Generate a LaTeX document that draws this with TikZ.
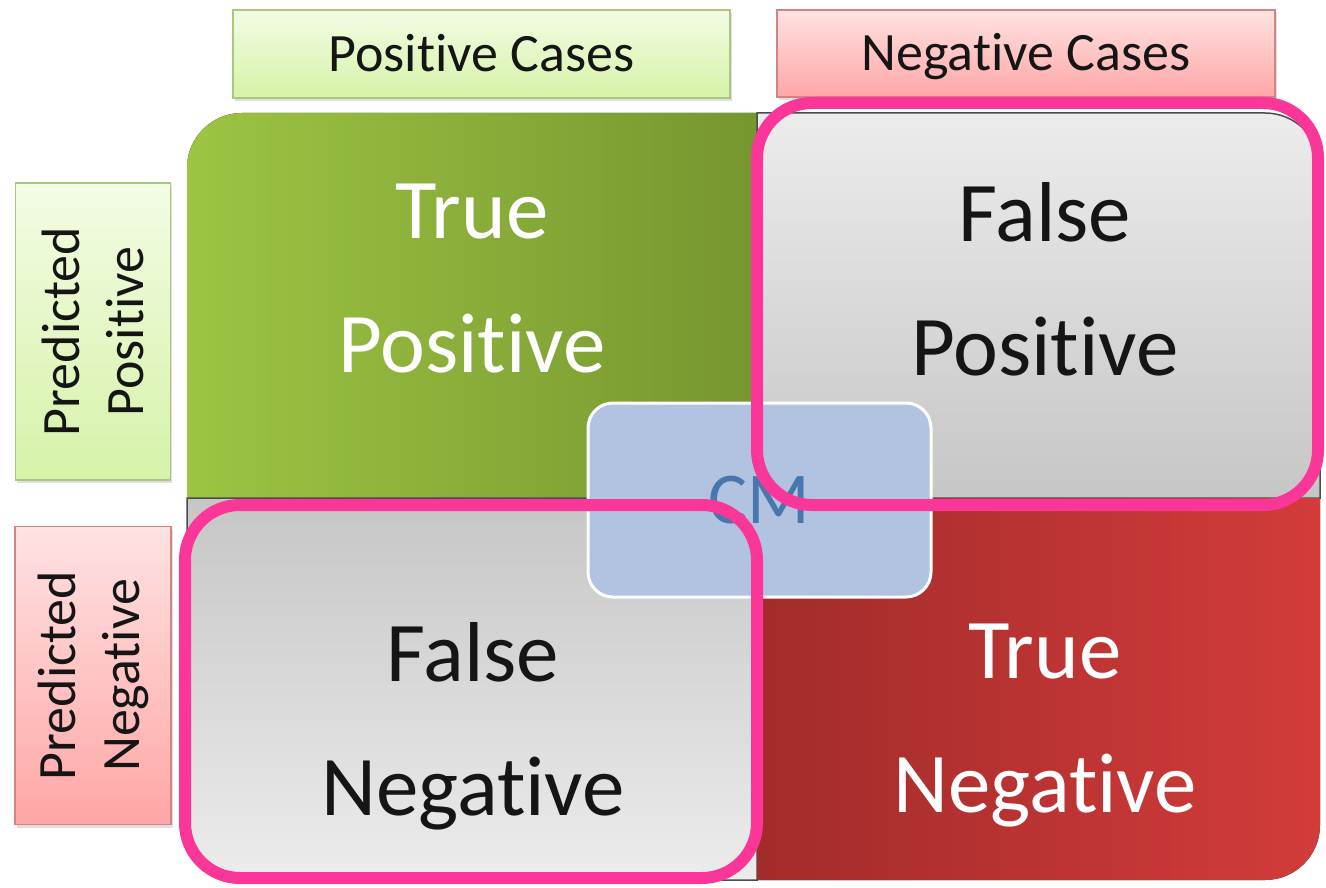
\documentclass[tikz,border=0pt]{standalone}
\usepackage{fontspec}
\setmainfont{Carlito}[Ligatures={NoCommon,NoRare,NoContextual}]
\usetikzlibrary{shadows}
\definecolor{gLabT}{HTML}{F3FCE4}
\definecolor{gLabB}{HTML}{D6F2A8}
\definecolor{gLabD}{HTML}{A9C77E}
\definecolor{rLabT}{HTML}{FFE2E2}
\definecolor{rLabB}{HTML}{FFA6A6}
\definecolor{rLabD}{HTML}{D08585}
\definecolor{tpL}{HTML}{9DC443}
\definecolor{tpR}{HTML}{76962F}
\definecolor{fpT}{HTML}{ECECEC}
\definecolor{fpB}{HTML}{C6C6C6}
\definecolor{tnL}{HTML}{A22B2B}
\definecolor{tnR}{HTML}{D23C3A}
\definecolor{cmFill}{HTML}{B1C3E0}
\definecolor{cmText}{HTML}{4876AD}
\definecolor{hlPink}{HTML}{FA3799}
\definecolor{txtDark}{HTML}{151515}
\tikzset{
  lab/.style={rectangle, inner sep=0pt, line width=1.2pt, text=txtDark,
    font=\fontsize{54}{64}\selectfont, align=center,
    drop shadow={shadow xshift=1.5pt, shadow yshift=-3pt, opacity=0.25}},
  glab/.style={lab, draw=gLabD, top color=gLabT, bottom color=gLabB},
  rlab/.style={lab, draw=rLabD, top color=rLabT, bottom color=rLabB},
  toplab/.style={text height=35pt, text depth=0pt},
  quadtext/.style={inner sep=0pt, align=center, font=\fontsize{85}{134}\selectfont},
  grayquad/.style={draw=black!70, line width=1.5pt},
  cmbox/.style={rectangle, rounded corners=25pt, fill=cmFill, draw=white,
    line width=3pt, minimum width=343pt, minimum height=194pt, inner sep=0pt,
    text=cmText, font=\fontsize{73}{80}\selectfont},
  hl/.style={draw=hlPink, line width=12pt, rounded corners=55pt}
}
\begin{document}
\begin{tikzpicture}[x=1pt,y=-1pt]
\useasboundingbox (0,0) rectangle (1326,888);
\fill[white] (0,0) rectangle (1326,888);

% column / row labels
\node[glab, toplab, minimum width=497pt, minimum height=88pt] (poscases) at (481.5,54) {Positive Cases};
\node[rlab, toplab, minimum width=498pt, minimum height=87pt] (negcases) at (1026,53.5) {Negative Cases};
\node[glab, rotate=90, minimum width=297pt, minimum height=155pt] (predpos) at (93,331.5) {Predicted\\Positive};
\node[rlab, rotate=90, minimum width=298pt, minimum height=156pt] (predneg) at (93,675.5) {Predicted\\Negative};

% quadrants
\fill[left color=tpL, right color=tpR]
  (187,498) -- (187,168) .. controls (187,137.6) and (211.6,113) .. (242,113)
  -- (757,113) -- (757,498) -- cycle;
\path[grayquad, top color=fpT, bottom color=fpB]
  (757,113) -- (1265,113) .. controls (1295.4,113) and (1320,137.6) .. (1320,168)
  -- (1320,498) -- (757,498) -- cycle;
\path[grayquad, top color=fpB, bottom color=fpT]
  (187,498) -- (757,498) -- (757,880) -- (242,880)
  .. controls (211.6,880) and (187,855.4) .. (187,825) -- cycle;
\fill[left color=tnL, right color=tnR]
  (757,498) -- (1320,498) -- (1320,825) .. controls (1320,855.4) and (1295.4,880) .. (1265,880)
  -- (757,880) -- cycle;

\node[quadtext, text=white] (tp) at (472,279) {True\\Positive};
\node[quadtext, text=txtDark] (fp) at (1045,279) {False\\Positive};
\node[quadtext, text=txtDark] (fn) at (473,726) {False\\Negative};
\node[quadtext, text=white] (tn) at (1045,726) {True\\Negative};

% centre box
\node[cmbox] (cm) at (759.5,500) {CM};

% highlights
\draw[hl] (757,103) rectangle (1318,505);
\draw[hl] (185,505) rectangle (757,878);
\end{tikzpicture}
\end{document}
